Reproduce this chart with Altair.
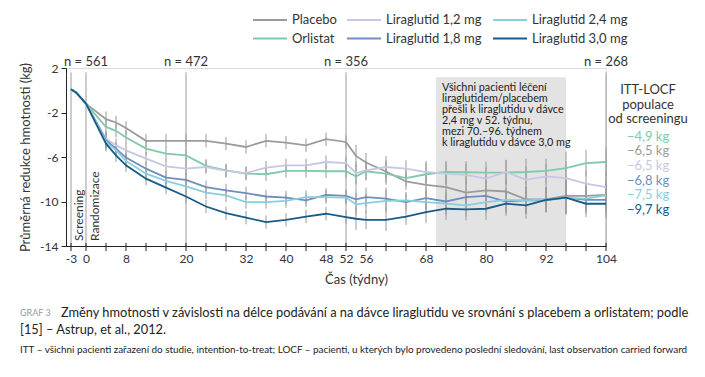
import altair as alt
import pandas as pd

# ---------------- data ----------------
weeks = [-3, -2, 0, 4, 6, 8, 12, 16, 20, 24, 28, 32, 36, 40, 44, 48, 52, 54, 56,
         60, 64, 68, 72, 76, 80, 84, 88, 92, 96, 100, 104]

placebo = [0.1, -0.2, -1.2, -2.6, -2.9, -3.4, -4.55, -4.55, -4.55, -4.55, -4.8, -5.1, -4.55,
           -4.7, -4.95, -4.4, -4.65, -5.9, -6.5, -7.3, -8.2, -8.5, -8.7, -9.2, -9.0, -9.1,
           -9.8, -9.8, -9.5, -9.5, -9.4]
orlistat = [0.1, -0.2, -1.2, -3.3, -3.65, -4.25, -5.25, -5.7, -5.85, -6.8, -7.2, -7.5, -7.55,
            -7.25, -7.25, -7.28, -7.28, -7.75, -7.28, -7.5, -7.9, -7.55, -7.35, -7.37, -7.4,
            -7.4, -7.35, -7.25, -7.0, -6.55, -6.45]
lira12 = [0.1, -0.2, -1.2, -4.35, -4.95, -5.4, -6.15, -6.85, -7.05, -6.9, -7.25, -7.45, -6.95,
          -6.75, -6.75, -6.45, -6.55, -7.45, -7.2, -6.9, -7.05, -7.35, -7.5, -7.6, -7.95,
          -7.35, -8.05, -7.75, -7.9, -8.4, -8.7]
lira18 = [0.1, -0.2, -1.2, -4.5, -5.25, -6.05, -7.05, -7.85, -8.05, -8.7, -9.0, -9.25, -9.55,
          -9.65, -9.9, -9.4, -9.5, -9.8, -9.6, -9.75, -10.05, -9.7, -10.0, -9.6, -9.5, -10.0,
          -9.9, -9.9, -9.65, -9.85, -9.85]
lira24 = [0.1, -0.2, -1.2, -4.65, -5.4, -6.35, -7.5, -8.15, -8.65, -9.2, -9.45, -10.05, -10.05,
          -9.95, -9.6, -9.6, -9.65, -10.25, -10.15, -9.95, -9.9, -10.05, -10.2, -10.35, -10.05,
          -9.85, -9.9, -9.8, -9.65, -9.75, -9.45]
lira30 = [0.1, -0.2, -1.2, -4.8, -5.85, -6.75, -7.95, -8.75, -9.55, -10.45, -11.05, -11.45,
          -11.85, -11.65, -11.35, -11.1, -11.4, -11.55, -11.65, -11.65, -11.35, -10.95, -10.65,
          -10.7, -10.65, -10.2, -10.35, -9.85, -9.65, -10.2, -10.2]

# half-length of the error bars at each week (0 = no bar)
err_half = [0, 0, 0, 0.7, 0.6, 0.6, 0.6, 0.6, 0.6, 0.6, 0.6, 0.6, 0.6, 0.6, 0.6, 0.6, 0.6,
            1.0, 0.85, 1.0, 0.75, 1.0, 1.0, 1.0, 1.0, 1.1, 1.2, 1.1, 1.5, 1.2, 1.3]

# legend order (3 columns, row-major)
series_names = ["Placebo", "Liraglutid 1,2 mg", "Liraglutid 2,4 mg",
                "Orlistat", "Liraglutid 1,8 mg", "Liraglutid 3,0 mg"]
series_colors = ["#9b9b9b", "#c6c7e7", "#86d0db", "#7fcaa9", "#6f8ebf", "#185b88"]
series_values = {
    "Placebo": placebo, "Orlistat": orlistat, "Liraglutid 1,2 mg": lira12,
    "Liraglutid 1,8 mg": lira18, "Liraglutid 2,4 mg": lira24, "Liraglutid 3,0 mg": lira30,
}
draw_order = ["Placebo", "Orlistat", "Liraglutid 1,2 mg", "Liraglutid 1,8 mg",
              "Liraglutid 2,4 mg", "Liraglutid 3,0 mg"]

grid_weeks = [-3, 0, 20, 52, 104]
n_weeks = [0, 20, 52, 104]
n_labels = ["n = 561", "n = 472", "n = 356", "n = 268"]
x_tick_values = [-3] + list(range(0, 105, 4))
x_label_values = [-3, 0, 8, 20, 32, 40, 48, 52, 56, 68, 80, 92, 104]
y_tick_values = [2, -2, -6, -10, -14]

itt_header = ["ITT-LOCF", "populace", "od screeningu"]
itt_labels = ["−4,9 kg", "−6,5 kg", "−6,5 kg", "−6,8 kg", "−7,5 kg", "−9,7 kg"]
itt_series = ["Orlistat", "Placebo", "Liraglutid 1,2 mg", "Liraglutid 1,8 mg",
              "Liraglutid 2,4 mg", "Liraglutid 3,0 mg"]

box_lines = ["Všichni pacienti léčení", "liraglutidem/placebem",
             "přešli k liraglutidu v dávce", "2,4 mg v 52. týdnu,",
             "mezi 70.–96. týdnem", "k liraglutidu v dávce 3,0 mg"]

caption_tag = "GRAF 3"
caption_1 = ("Změny hmotnosti v závislosti na délce podávání a na dávce liraglutidu "
             "ve srovnání s placebem a orlistatem; podle")
caption_2 = "[15] – Astrup, et al., 2012."
caption_3 = ("ITT – všichni pacienti zařazení do studie, intention-to-treat; LOCF – pacienti, "
             "u kterých bylo provedeno poslední sledování, last observation carried forward")

# ---------------- tables ----------------
rows = []
for s in draw_order:
    for w, v, e in zip(weeks, series_values[s], err_half):
        rows.append({"week": w, "value": v, "series": s, "order": draw_order.index(s),
                     "lo": v - e, "hi": v + e, "err": e})
df = pd.DataFrame(rows)
df_err = df[df["err"] > 0]

FONT = "Lato"
TXT = "#333333"
W, H = 540, 178
one = pd.DataFrame({"a": [0]})

x_scale = alt.Scale(domain=[-4, 104], nice=False, zero=False)
y_scale = alt.Scale(domain=[-14, 2], nice=False, zero=False)
color_scale = alt.Scale(domain=series_names, range=series_colors)

x_axis = alt.Axis(values=x_label_values,
                  labelExpr="replace(datum.label, '−', '-')",
                  labelOverlap=False, ticks=False,
                  title="Čas (týdny)", titleX=290, titleY=27, grid=False,
                  labelFontSize=12, titleFontSize=13, titleFontWeight="normal",
                  labelColor=TXT, titleColor=TXT, domainColor="#222",
                  labelPadding=7, labelFont=FONT, titleFont=FONT, labelFlush=False)
y_axis = alt.Axis(values=y_tick_values, title="Průměrná redukce hmotnosti (kg)",
                  labelExpr="replace(datum.label, '−', '-')", labelOverlap=False,
                  grid=False, tickSize=5, labelFontSize=12, titleFontSize=13,
                  titleFontWeight="normal", labelColor=TXT, titleColor=TXT,
                  domainColor="#222", tickColor="#222", labelPadding=3,
                  titleX=-34, titleY=89, labelFont=FONT, titleFont=FONT)

box = alt.Chart(one).mark_rect(color="#e3e3e3").encode(
    x=alt.datum(70, scale=x_scale, axis=x_axis), x2=alt.datum(96),
    y=alt.datum(1.16, scale=y_scale, axis=y_axis), y2=alt.datum(-14))

grid = alt.Chart(pd.DataFrame({"week": grid_weeks})).mark_rule(
    color="#9a9a9a", strokeWidth=1).encode(
    x=alt.X("week:Q", scale=x_scale, axis=x_axis), y=alt.datum(1.6), y2=alt.datum(-14))

# x-axis tick marks (crossing the axis line, as in the reference)
xticks = alt.Chart(pd.DataFrame({"week": x_tick_values})).mark_rule(
    color="#222", strokeWidth=1).encode(
    x=alt.X("week:Q", scale=x_scale, axis=x_axis),
    y=alt.value(H - 3), y2=alt.value(H + 5))

errbars = alt.Chart(df_err).mark_rule(color="#9a9a9a", strokeWidth=1).encode(
    x=alt.X("week:Q", scale=x_scale, axis=x_axis),
    y=alt.Y("lo:Q", scale=y_scale, axis=y_axis), y2="hi:Q")

lines = alt.Chart(df).mark_line(strokeWidth=1.8).encode(
    x=alt.X("week:Q", scale=x_scale, axis=x_axis),
    y=alt.Y("value:Q", scale=y_scale, axis=y_axis),
    color=alt.Color("series:N", scale=color_scale, legend=None),
    order="order:Q", detail="series:N")

n_text = alt.Chart(pd.DataFrame({"week": n_weeks, "label": n_labels})).mark_text(
    fontSize=13, font=FONT, color=TXT, baseline="middle").encode(
    x=alt.X("week:Q", scale=x_scale, axis=x_axis), y=alt.value(-6), text="label:N")

screening = alt.Chart(one).mark_text(
    text="Screening", angle=270, align="left", baseline="middle", fontSize=12,
    font=FONT, color=TXT).encode(x=alt.datum(-1.5), y=alt.value(173))
randomizace = alt.Chart(one).mark_text(
    text="Randomizace", angle=270, align="left", baseline="middle", fontSize=12,
    font=FONT, color=TXT).encode(x=alt.datum(1.7), y=alt.value(173))

box_text = alt.Chart(one).mark_text(
    text=box_lines, align="left", baseline="top", fontSize=10.8, lineHeight=11,
    font=FONT, color="#222").encode(x=alt.datum(71.2), y=alt.value(13.5))

itt_head = alt.Chart(one).mark_text(
    text=itt_header, align="center", baseline="middle", fontSize=13, lineHeight=14.6,
    font=FONT, color=TXT).encode(x=alt.value(582), y=alt.value(22))

itt_layers = []
for i, (lab, s) in enumerate(zip(itt_labels, itt_series)):
    c = series_colors[series_names.index(s)]
    itt_layers.append(alt.Chart(one).mark_text(
        text=lab, align="center", baseline="middle", fontSize=13, font=FONT, color=c).encode(
        x=alt.value(582), y=alt.value(68.7 + 14.6 * i)))

# manual legend: 3 columns x 2 rows
leg_col_x = [187, 281, 427]
leg_row_y = [-48, -29.5]
legend_layers = []
for k, (name, col) in enumerate(zip(series_names, series_colors)):
    cx = leg_col_x[k % 3]
    ry = leg_row_y[k // 3]
    legend_layers.append(alt.Chart(one).mark_rule(color=col, strokeWidth=2.2).encode(
        x=alt.value(cx), x2=alt.value(cx + 34), y=alt.value(ry)))
    legend_layers.append(alt.Chart(one).mark_text(
        text=name, align="left", baseline="middle", fontSize=13, font=FONT,
        color=TXT).encode(x=alt.value(cx + 39), y=alt.value(ry)))

cap_tag = alt.Chart(one).mark_text(
    text=caption_tag, align="left", baseline="middle", fontSize=9, font=FONT,
    color="#9a9a9a").encode(x=alt.value(-46), y=alt.value(245))
cap1 = alt.Chart(one).mark_text(
    text=caption_1, align="left", baseline="middle", fontSize=12.8, font=FONT,
    color="#222").encode(x=alt.value(-5), y=alt.value(245))
cap2 = alt.Chart(one).mark_text(
    text=caption_2, align="left", baseline="middle", fontSize=12.8, font=FONT,
    color="#222").encode(x=alt.value(-46), y=alt.value(262))
cap3 = alt.Chart(one).mark_text(
    text=caption_3, align="left", baseline="middle", fontSize=9.9, font=FONT,
    color="#222").encode(x=alt.value(-46), y=alt.value(282))

chart = alt.layer(
    box, grid, xticks, errbars, lines, n_text, screening, randomizace, box_text, itt_head,
    *itt_layers, *legend_layers, cap_tag, cap1, cap2, cap3
).properties(
    width=W, height=H,
    autosize=alt.AutoSizeParams(type="none"),
    padding={"left": 58, "top": 60, "right": 91, "bottom": 120},
).configure_view(stroke=None).configure_axisX(labelOverlap=False).configure_axisY(
    labelOverlap=False).configure(font=FONT)

chart.save("out.html", embed_options={"renderer": "svg", "actions": False})
